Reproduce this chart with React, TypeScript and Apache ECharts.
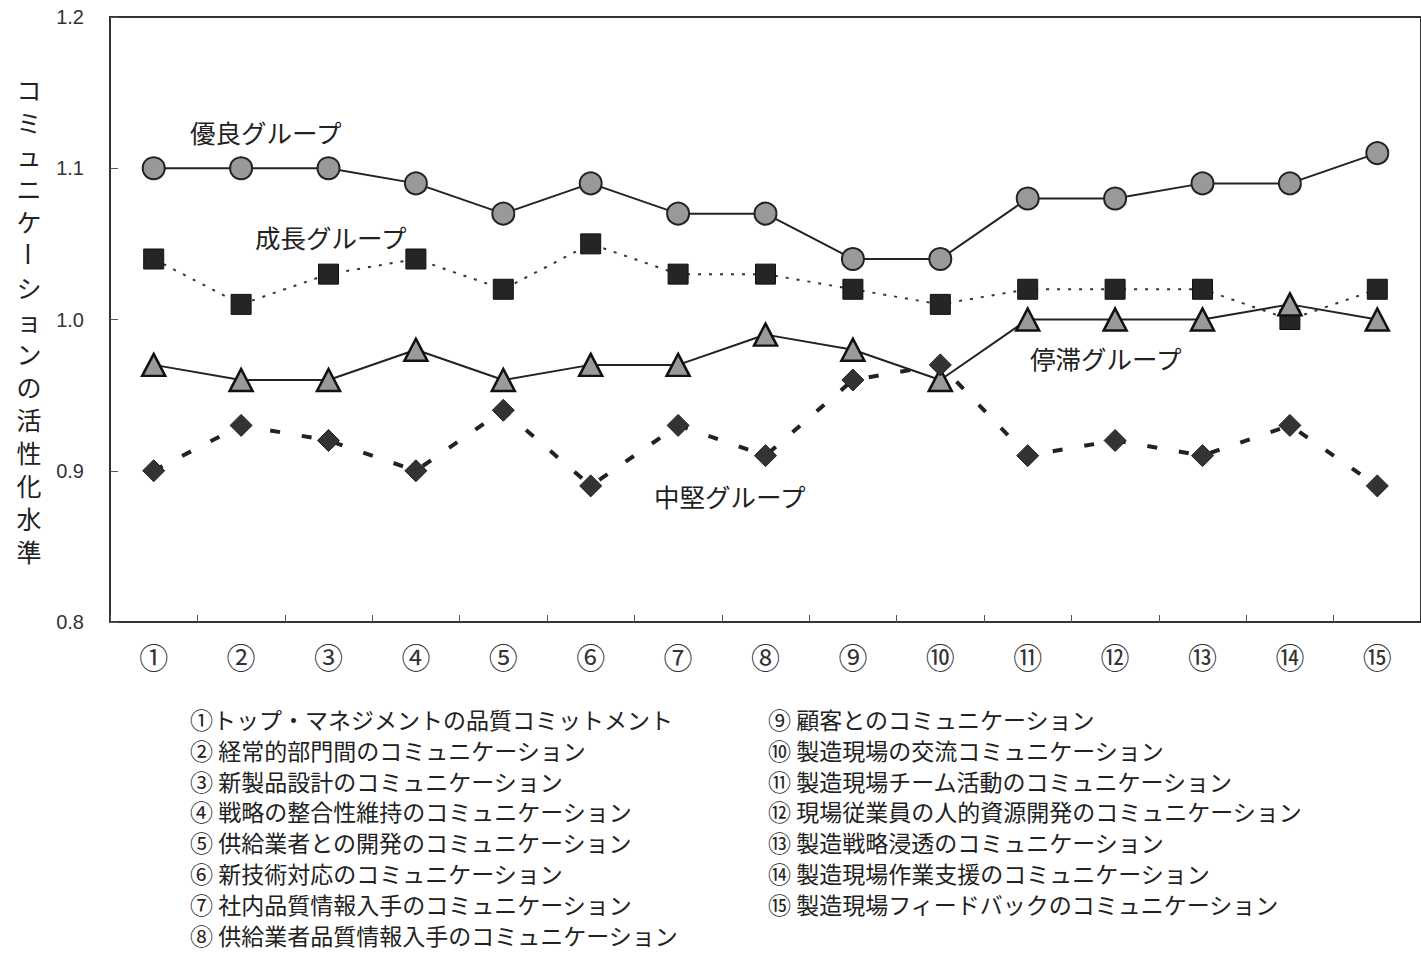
import React, { useEffect, useRef } from "react";
import * as echarts from "echarts";

const categories = ["①", "②", "③", "④", "⑤", "⑥", "⑦", "⑧", "⑨", "⑩", "⑪", "⑫", "⑬", "⑭", "⑮"];

const yuryo = [1.10, 1.10, 1.10, 1.09, 1.07, 1.09, 1.07, 1.07, 1.04, 1.04, 1.08, 1.08, 1.09, 1.09, 1.11];
const seicho = [1.04, 1.01, 1.03, 1.04, 1.02, 1.05, 1.03, 1.03, 1.02, 1.01, 1.02, 1.02, 1.02, 1.00, 1.02];
const teitai = [0.97, 0.96, 0.96, 0.98, 0.96, 0.97, 0.97, 0.99, 0.98, 0.96, 1.00, 1.00, 1.00, 1.01, 1.00];
const chuken = [0.90, 0.93, 0.92, 0.90, 0.94, 0.89, 0.93, 0.91, 0.96, 0.97, 0.91, 0.92, 0.91, 0.93, 0.89];

const groupNames = ["優良グループ", "成長グループ", "中堅グループ", "停滞グループ"];

const yAxisTitle = "コミュニケーションの活性化水準";

const itemsLeft = [
  "①トップ・マネジメントの品質コミットメント",
  "② 経常的部門間のコミュニケーション",
  "③ 新製品設計のコミュニケーション",
  "④ 戦略の整合性維持のコミュニケーション",
  "⑤ 供給業者との開発のコミュニケーション",
  "⑥ 新技術対応のコミュニケーション",
  "⑦ 社内品質情報入手のコミュニケーション",
  "⑧ 供給業者品質情報入手のコミュニケーション",
];
const itemsRight = [
  "⑨ 顧客とのコミュニケーション",
  "⑩ 製造現場の交流コミュニケーション",
  "⑪ 製造現場チーム活動のコミュニケーション",
  "⑫ 現場従業員の人的資源開発のコミュニケーション",
  "⑬ 製造戦略浸透のコミュニケーション",
  "⑭ 製造現場作業支援のコミュニケーション",
  "⑮ 製造現場フィードバックのコミュニケーション",
];

const JP = '"Noto Sans CJK JP", "Noto Sans", sans-serif';
const TXT = "#222";

export default function App() {
  const ref = useRef<HTMLDivElement>(null);

  useEffect(() => {
    if (!ref.current) return;
    const chart = echarts.init(ref.current, undefined, { renderer: "svg" });

    const graphics: any[] = [];
    // vertical axis title, one character per line
    const chars = Array.from(yAxisTitle);
    chars.forEach((ch, i) => {
      graphics.push({
        type: "text",
        x: 29,
        y: 89 + i * 33,
        rotation: ch === "ー" ? -Math.PI / 2 : 0,
        style: {
          text: ch,
          fontSize: 25,
          fontFamily: JP,
          fill: TXT,
          align: "center",
          verticalAlign: "middle",
        },
      });
    });

    const labelPos = [
      [190, 131],
      [255, 236],
      [654, 495],
      [1030, 357],
    ];
    groupNames.forEach((name, i) => {
      graphics.push({
        type: "text",
        x: labelPos[i][0],
        y: labelPos[i][1],
        style: {
          text: name,
          fontSize: 25.5,
          fontFamily: JP,
          fill: TXT,
          align: "left",
          verticalAlign: "middle",
        },
      });
    });

    itemsLeft.forEach((t, i) => {
      graphics.push({
        type: "text",
        x: 190,
        y: 719 + i * 30.8,
        style: { text: t, fontSize: 23, fontFamily: JP, fill: TXT, align: "left", verticalAlign: "middle" },
      });
    });
    itemsRight.forEach((t, i) => {
      graphics.push({
        type: "text",
        x: 768,
        y: 719 + i * 30.8,
        style: { text: t, fontSize: 23, fontFamily: JP, fill: TXT, align: "left", verticalAlign: "middle" },
      });
    });

    chart.setOption({
      animation: false,
      backgroundColor: "#ffffff",
      grid: {
        left: 110,
        top: 17,
        height: 605,
        width: 1325,
        show: true,
        borderColor: "#333",
        borderWidth: 2,
        containLabel: false,
      },
      xAxis: {
        type: "category",
        data: categories,
        boundaryGap: true,
        axisLine: { lineStyle: { color: "#333", width: 2 } },
        axisTick: { show: true, inside: true, length: 7, lineStyle: { color: "#555", width: 1 } },
        axisLabel: { color: "#333", fontSize: 29, fontFamily: JP, margin: 19 },
        splitLine: { show: false },
      },
      yAxis: {
        type: "value",
        min: 0.8,
        max: 1.2,
        interval: 0.1,
        axisLine: { show: true, lineStyle: { color: "#333", width: 2 } },
        axisTick: { show: true, inside: true, length: 8, lineStyle: { color: "#555", width: 1 } },
        axisLabel: {
          color: "#333",
          fontSize: 20,
          fontFamily: '"Liberation Sans", Arial, sans-serif',
          margin: 26,
          formatter: (v: number) => v.toFixed(1),
        },
        splitLine: { show: false },
      },
      series: [
        {
          name: groupNames[1],
          type: "line",
          data: seicho,
          symbol: "rect",
          symbolSize: 20,
          lineStyle: { color: "#333", width: 2, type: [3, 8] },
          itemStyle: { color: "#252525", borderColor: "#111", borderWidth: 1 },
        },
        {
          name: groupNames[3],
          type: "line",
          data: teitai,
          symbol: "triangle",
          symbolSize: [23, 22],
          lineStyle: { color: "#222", width: 2, type: "solid" },
          itemStyle: { color: "#9a9a9a", borderColor: "#111", borderWidth: 2.5 },
        },
        {
          name: groupNames[2],
          type: "line",
          data: chuken,
          symbol: "diamond",
          symbolSize: 22,
          lineStyle: { color: "#222", width: 4, type: [10, 22] },
          itemStyle: { color: "#333", borderColor: "#222", borderWidth: 1 },
        },
        {
          name: groupNames[0],
          type: "line",
          data: yuryo,
          symbol: "circle",
          symbolSize: 22,
          lineStyle: { color: "#222", width: 2, type: "solid" },
          itemStyle: { color: "#999999", borderColor: "#222", borderWidth: 2 },
        },
      ],
      graphic: graphics,
    });

    return () => chart.dispose();
  }, []);

  return (
    <div
      ref={ref}
      style={{ position: "absolute", left: 0, top: 0, width: 1421, height: 953, background: "#fff" }}
    />
  );
}
